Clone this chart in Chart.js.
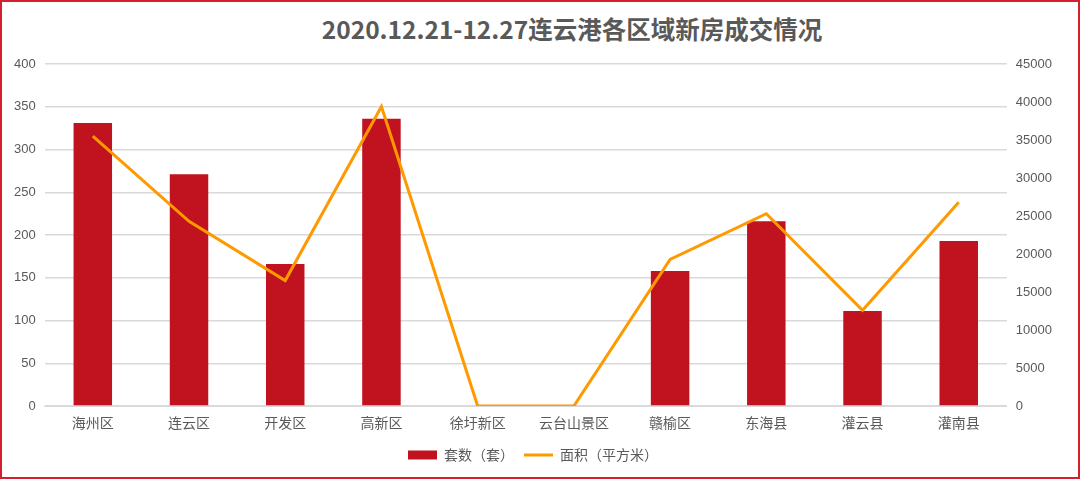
<!DOCTYPE html>
<html>
<head>
<meta charset="utf-8">
<script src="https://cdn.jsdelivr.net/npm/chart.js@4"></script>
<style>
  html, body { margin: 0; padding: 0; background: #fff; }
  #wrap {
    position: relative;
    width: 1080px;
    height: 479px;
    box-sizing: border-box;
    border: 2px solid #d2202f;
    background: #fff;
  }
  #title {
    position: absolute;
    left: 0;
    width: 1140px;
    top: 9px;
    text-align: center;
    font-family: "Noto Sans CJK SC", sans-serif;
    font-weight: bold;
    font-size: 24.5px;
    color: #595959;
  }
  #chart-box { position: absolute; left: 0; top: 0; width: 1076px; height: 475px; }
</style>
</head>
<body>
<div id="wrap">
  <div id="title">2020.12.21-12.27连云港各区域新房成交情况</div>
  <div id="chart-box"><canvas id="chart"></canvas></div>
</div>
<script>
// categories and values
const districts = ['海州区', '连云区', '开发区', '高新区', '徐圩新区', '云台山景区', '赣榆区', '东海县', '灌云县', '灌南县'];
const unitsSold = [331, 271, 166, 336, 0, 0, 158, 216, 111, 193];
const areaSold = [35500, 24300, 16500, 39400, 0, 0, 19300, 25300, 12600, 26800];
const leftTicks = [0, 50, 100, 150, 200, 250, 300, 350, 400];
const rightTicks = [0, 5000, 10000, 15000, 20000, 25000, 30000, 35000, 40000, 45000];

const textColor = '#595959';
const gridColor = '#d9d9d9';

document.addEventListener('DOMContentLoaded', () => {
    const ctx = document.getElementById('chart');

    new Chart(ctx, {
        data: {
            labels: districts,
            datasets: [
                {
                    type: 'line',
                    label: '面积（平方米）',
                    data: areaSold,
                    yAxisID: 'y1',
                    borderColor: '#ff9900',
                    backgroundColor: '#ff9900',
                    borderWidth: 3,
                    pointRadius: 0,
                    pointHoverRadius: 0,
                    pointStyle: 'line',
                    tension: 0,
                    order: 0
                },
                {
                    type: 'bar',
                    label: '套数（套）',
                    data: unitsSold,
                    yAxisID: 'y',
                    backgroundColor: '#c0121f',
                    borderWidth: 0,
                    pointStyle: 'rect',
                    categoryPercentage: 0.8,
                    barPercentage: 0.5,
                    order: 1
                }
            ]
        },
        options: {
            responsive: true,
            maintainAspectRatio: false,
            animation: false,
            layout: {
                padding: { top: 62, left: 3, right: 17, bottom: 5 }
            },
            plugins: {
                legend: {
                    position: 'bottom',
                    reverse: true,
                    labels: {
                        usePointStyle: true,
                        pointStyleWidth: 29,
                        boxHeight: 9,
                        padding: 10,
                        color: textColor,
                        font: { family: '"Noto Sans CJK SC", sans-serif', size: 14 }
                    }
                },
                tooltip: { enabled: false }
            },
            scales: {
                x: {
                    // leave a little more room below the labels, as in the original
                    afterFit: axis => { axis.height += 6; },
                    grid: { display: false },
                    border: { color: gridColor, width: 1 },
                    ticks: {
                        color: textColor,
                        padding: 2,
                        font: { family: '"Noto Sans CJK SC", sans-serif', size: 14, lineHeight: 1 }
                    }
                },
                y: {
                    position: 'left',
                    min: 0,
                    max: 400,
                    afterBuildTicks: axis => { axis.ticks = leftTicks.map(v => ({ value: v })); },
                    grid: { color: gridColor, lineWidth: 1.5, drawTicks: false },
                    border: { display: false },
                    ticks: {
                        color: textColor,
                        padding: 9,
                        font: { family: '"Liberation Sans", sans-serif', size: 13 }
                    }
                },
                y1: {
                    position: 'right',
                    min: 0,
                    max: 45000,
                    afterBuildTicks: axis => { axis.ticks = rightTicks.map(v => ({ value: v })); },
                    grid: { display: false, drawTicks: false },
                    border: { display: false },
                    ticks: {
                        color: textColor,
                        padding: 9,
                        font: { family: '"Liberation Sans", sans-serif', size: 13 },
                        callback: value => String(value)
                    }
                }
            }
        }
    });
});
</script>
</body>
</html>
